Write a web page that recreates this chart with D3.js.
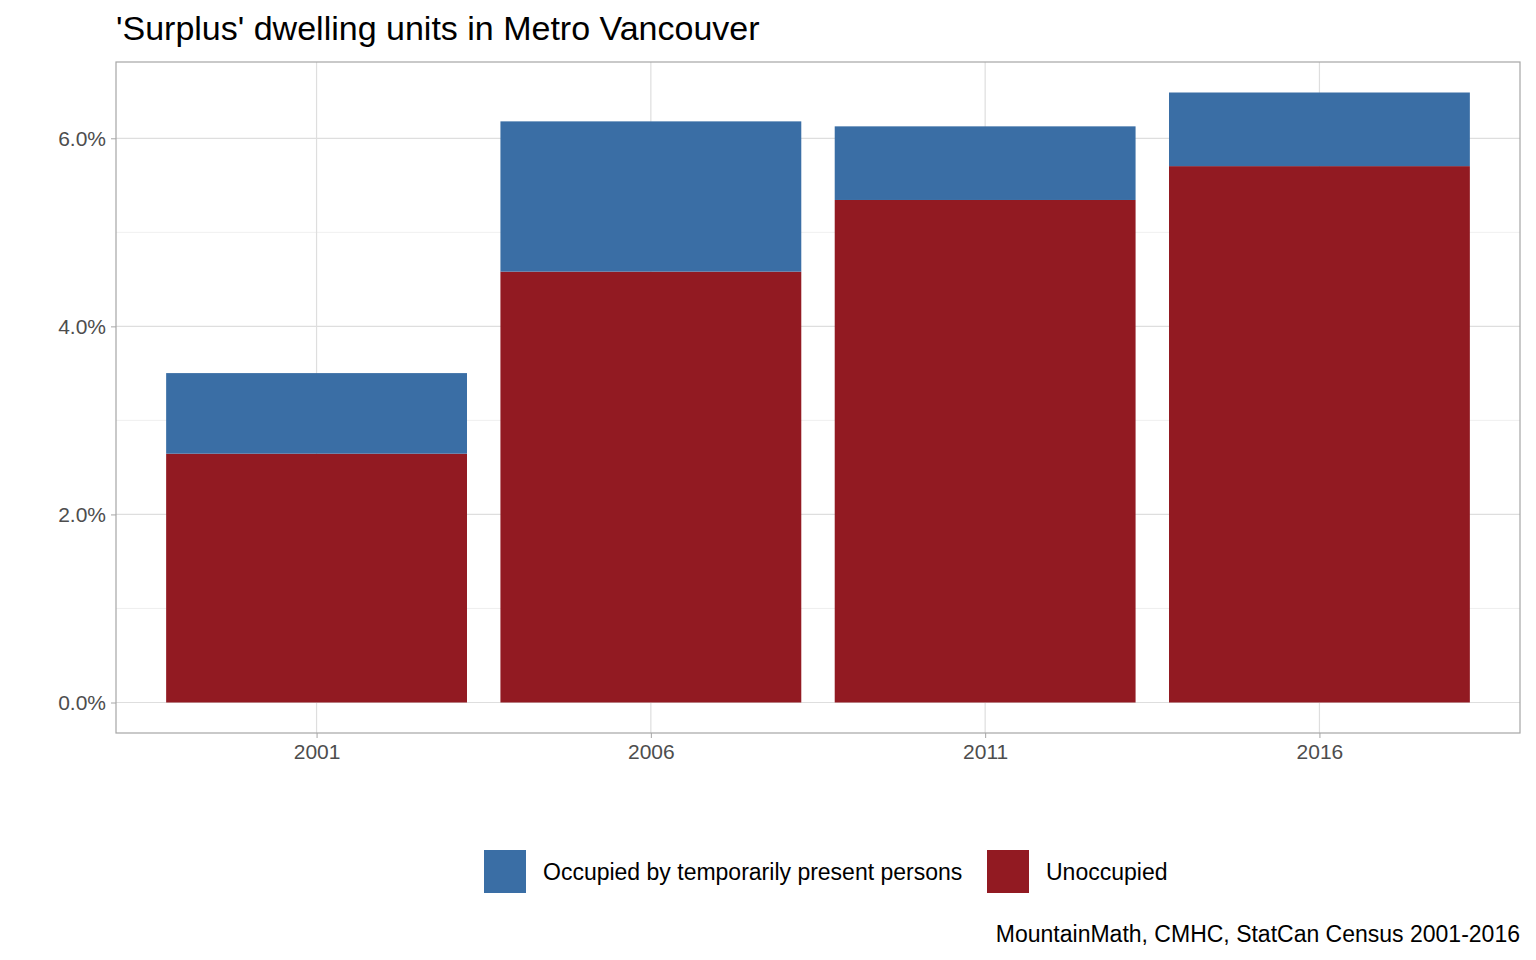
<!DOCTYPE html>
<html><head><meta charset="utf-8">
<script src="https://cdn.jsdelivr.net/npm/d3@7"></script>
<style>body{margin:0;background:#fff}text{font-family:"Liberation Sans",Arial,sans-serif}</style>
</head><body>
<script>
var years = ["2001", "2006", "2011", "2016"]
  , unoccupied = [2.646, 4.582, 5.344, 5.704]
  , temporary = [0.857, 1.598, 0.783, 0.783]
  , yTicks = [0, 2, 4, 6]
  , yMinor = [1, 3, 5]
  , seriesNames = ["Occupied by temporarily present persons", "Unoccupied"]
  , colors = ["#3a6ea5", "#921a22"]

var W = 1536, H = 960
  , pLeft = 116, pRight = 1520, pTop = 62, pBottom = 733

var svg = d3.select('body').append('svg').attr('width', W).attr('height', H)

var totals = years.map(function(d, i){ return unoccupied[i] + temporary[i] })
  , ymax = d3.max(totals), pad = ymax * 0.05

var x = d3.scalePoint().domain(years).range([pLeft, pRight]).padding(0.6)
  , y = d3.scaleLinear().domain([-pad, ymax + pad]).range([pBottom, pTop])
  , bw = x.step() * 0.9

// grid
svg.selectAll('.minor').data(yMinor).enter().append('line')
    .attr('x1', pLeft).attr('x2', pRight).attr('y1', y).attr('y2', y)
    .attr('stroke', '#ebebeb').attr('stroke-width', 0.8)
svg.selectAll('.major').data(yTicks).enter().append('line')
    .attr('x1', pLeft).attr('x2', pRight).attr('y1', y).attr('y2', y)
    .attr('stroke', '#dedede').attr('stroke-width', 1.2)
svg.selectAll('.vmajor').data(years).enter().append('line')
    .attr('x1', x).attr('x2', x).attr('y1', pTop).attr('y2', pBottom)
    .attr('stroke', '#dedede').attr('stroke-width', 1.2)

// bars
svg.selectAll('.unocc').data(years).enter().append('rect')
    .attr('x', function(d){ return x(d) - bw / 2 }).attr('width', bw)
    .attr('y', function(d, i){ return y(unoccupied[i]) })
    .attr('height', function(d, i){ return y(0) - y(unoccupied[i]) })
    .attr('fill', colors[1])
svg.selectAll('.temp').data(years).enter().append('rect')
    .attr('x', function(d){ return x(d) - bw / 2 }).attr('width', bw)
    .attr('y', function(d, i){ return y(totals[i]) })
    .attr('height', function(d, i){ return y(unoccupied[i]) - y(totals[i]) })
    .attr('fill', colors[0])

svg.append('rect').attr('x', pLeft).attr('y', pTop)
    .attr('width', pRight - pLeft).attr('height', pBottom - pTop)
    .attr('fill', 'none').attr('stroke', '#a6a6a6').attr('stroke-width', 1.2)

// axes
var ya = svg.append('g').attr('transform', 'translate(' + pLeft + ',0)')
    .call(d3.axisLeft(y).tickValues(yTicks).tickSize(5).tickPadding(5)
      .tickFormat(function(d){ return d.toFixed(1) + '%' }))
var xa = svg.append('g').attr('transform', 'translate(0,' + pBottom + ')')
    .call(d3.axisBottom(x).tickSize(5).tickPadding(6))
;[ya, xa].forEach(function(a){
  a.select('.domain').remove()
  a.selectAll('line').attr('stroke', '#a6a6a6')
  a.selectAll('text').attr('fill', '#4d4d4d').style('font-size', '21px')
})

svg.append('text').attr('x', pLeft).attr('y', 40).text("'Surplus' dwelling units in Metro Vancouver")
    .style('font-size', '34px').attr('fill', '#000')

// legend
var lx = [484, 987]
seriesNames.forEach(function(n, i){
  svg.append('rect').attr('x', lx[i]).attr('y', 850).attr('width', 42).attr('height', 43).attr('fill', colors[i])
  svg.append('text').attr('x', lx[i] + 59).attr('y', 880).text(n).style('font-size', '23px')
})

svg.append('text').attr('x', pRight).attr('y', 942).attr('text-anchor', 'end')
    .text('MountainMath, CMHC, StatCan Census 2001-2016').style('font-size', '23px')
</script>
</body></html>
